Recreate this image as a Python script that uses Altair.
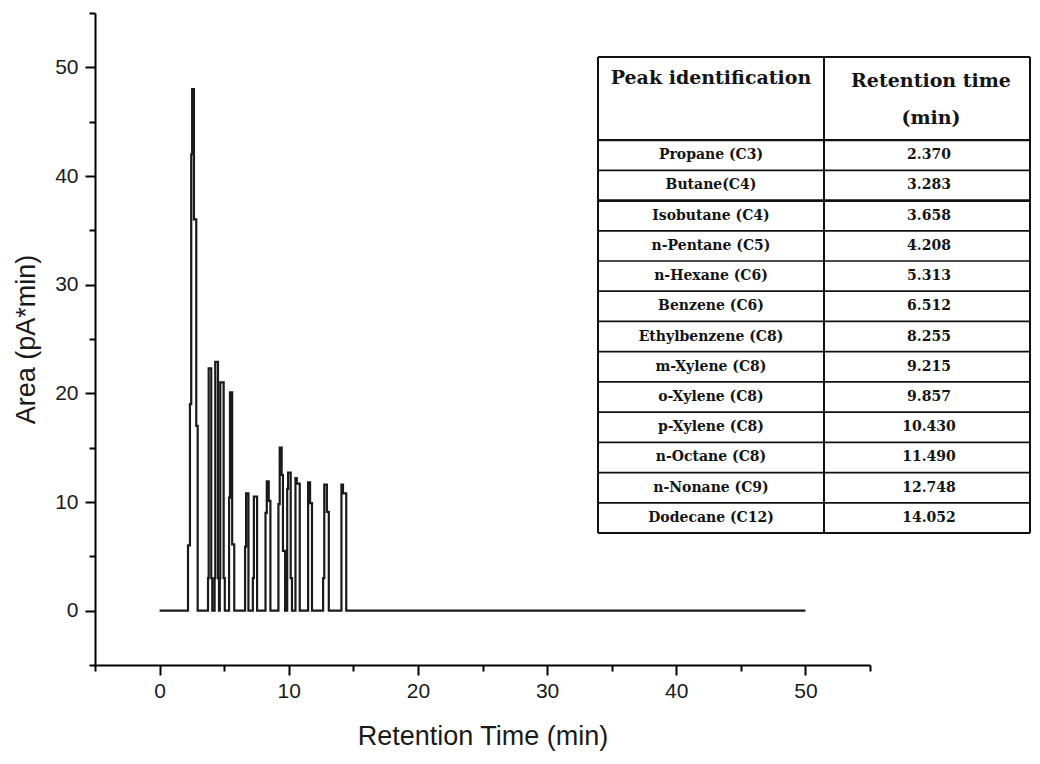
import altair as alt
import pandas as pd

# ---- chromatogram trace (retention time in min, signal in pA*min) ----
times = [0.0,
         2.20, 2.35, 2.45, 2.52, 2.66, 2.84, 2.95,
         3.75, 3.80, 4.00, 4.08,
         4.26, 4.31, 4.52, 4.60,
         4.66, 4.70, 4.96, 5.05,
         5.38, 5.45, 5.62, 5.78,
         6.62, 6.70, 6.88,
         7.22, 7.30, 7.55,
         8.20, 8.30, 8.45, 8.58,
         9.20, 9.30, 9.45, 9.55, 9.72,
         9.88, 9.95, 10.15, 10.25,
         10.52, 10.62, 10.85,
         11.50, 11.65, 11.80,
         12.66, 12.75, 12.95, 13.10,
         14.08, 14.20, 14.45,
         50.0]
signal = [0.0,
          6.0, 19.0, 42.0, 48.0, 36.0, 17.0, 0.0,
          3.0, 22.3, 3.0, 0.0,
          3.0, 22.9, 3.0, 0.0,
          3.0, 21.0, 3.0, 0.0,
          10.4, 20.1, 6.1, 0.0,
          5.9, 10.8, 0.0,
          3.0, 10.5, 0.0,
          9.0, 11.9, 10.1, 0.0,
          9.8, 15.0, 12.5, 5.5, 0.0,
          11.2, 12.7, 3.0, 0.0,
          12.2, 11.7, 0.0,
          11.8, 9.9, 0.0,
          3.0, 11.6, 9.1, 0.0,
          11.6, 10.8, 0.0,
          0.0]

# ---- peak identification table ----
compounds = ["Propane  (C3)", "Butane(C4)", "Isobutane (C4)", "n-Pentane (C5)",
             "n-Hexane (C6)", "Benzene (C6)", "Ethylbenzene  (C8)", "m-Xylene (C8)",
             "o-Xylene (C8)", "p-Xylene (C8)", "n-Octane (C8)", "n-Nonane (C9)",
             "Dodecane (C12)"]
ret_times = ["2.370", "3.283", "3.658", "4.208", "5.313", "6.512", "8.255",
             "9.215", "9.857", "10.430", "11.490", "12.748", "14.052"]
header_left = ["Peak identification"]
header_right = ["Retention time", "(min)"]

major_ticks = [0, 10, 20, 30, 40, 50]
minor_ticks = [-5, 5, 15, 25, 35, 45, 55]

trace = pd.DataFrame({"t": times, "s": signal})

xs = alt.Scale(domain=[-5, 55], nice=False, zero=False)
ys = alt.Scale(domain=[-5, 55], nice=False, zero=False)

line = alt.Chart(trace).mark_line(interpolate="step-after", color="#1a1a1a",
                                  strokeWidth=2.2).encode(
    x=alt.X("t:Q", scale=xs,
            axis=alt.Axis(values=major_ticks, tickSize=10, labelPadding=5, orient="bottom",
                          title="Retention Time (min)", titlePadding=22, offset=0)),
    y=alt.Y("s:Q", scale=ys,
            axis=alt.Axis(values=major_ticks, tickSize=10, labelPadding=7, orient="left",
                          title="Area (pA*min)", titlePadding=14, offset=0)),
)
minor = alt.Chart(trace).mark_line(opacity=0).encode(
    x=alt.X("t:Q", scale=xs,
            axis=alt.Axis(values=minor_ticks, tickSize=6, labels=False, domain=False,
                          title=None, orient="bottom", offset=0)),
    y=alt.Y("s:Q", scale=ys,
            axis=alt.Axis(values=minor_ticks, tickSize=6, labels=False, domain=False,
                          title=None, orient="left", offset=0)),
)
plot = alt.layer(line, minor).resolve_axis(x="independent", y="independent")

# table geometry (table units: x in px from table left, y in row units)
HEADER = 2.75
n = len(compounds)
TW = 432
DIV = 226
tx_scale = alt.Scale(domain=[0, TW], range=[503, 503 + TW])
ty_scale = alt.Scale(domain=[0, HEADER + n], range=[44, 520])

hlines = pd.DataFrame({
    "y": [0.0, HEADER] + [HEADER + i + 1 for i in range(n)],
    "w": [2.0, 2.4] + [2.8 if i == 1 else 1.7 for i in range(n - 1)] + [2.0],
})
hlines["x0"] = 0
hlines["x1"] = TW
vlines = pd.DataFrame({"x": [0, DIV, TW], "y0": [0, 0, 0], "y1": [HEADER + n] * 3})

rows = pd.DataFrame({
    "name": compounds,
    "rt": ret_times,
    "yc": [HEADER + i + 0.5 for i in range(n)],
})
rows["xl"] = DIV / 2
rows["xr"] = (DIV + TW) / 2 + 2

heads = pd.DataFrame({
    "txt": header_left + header_right,
    "x": [DIV / 2, (DIV + TW) / 2 + 4, (DIV + TW) / 2 + 4],
    "y": [0.68, 0.80, 2.02],
})

hrule = alt.Chart(hlines).mark_rule(color="#111").encode(
    x=alt.X("x0:Q", scale=tx_scale, axis=None), x2="x1:Q",
    y=alt.Y("y:Q", scale=ty_scale, axis=None),
    strokeWidth=alt.StrokeWidth("w:Q", scale=None, legend=None),
)
vrule = alt.Chart(vlines).mark_rule(color="#111", strokeWidth=2).encode(
    x=alt.X("x:Q", scale=tx_scale, axis=None),
    y=alt.Y("y0:Q", scale=ty_scale, axis=None), y2="y1:Q",
)
serif = "DejaVu Serif"
left_txt = alt.Chart(rows).mark_text(font=serif, fontWeight="bold", fontSize=14,
                                     color="#141414").encode(
    x=alt.X("xl:Q", scale=tx_scale, axis=None),
    y=alt.Y("yc:Q", scale=ty_scale, axis=None), text="name:N")
right_txt = alt.Chart(rows).mark_text(font=serif, fontWeight="bold", fontSize=14,
                                      color="#141414").encode(
    x=alt.X("xr:Q", scale=tx_scale, axis=None),
    y=alt.Y("yc:Q", scale=ty_scale, axis=None), text="rt:N")
head_txt = alt.Chart(heads).mark_text(font=serif, fontWeight="bold", fontSize=19,
                                      color="#141414").encode(
    x=alt.X("x:Q", scale=tx_scale, axis=None),
    y=alt.Y("y:Q", scale=ty_scale, axis=None), text="txt:N")

table = alt.layer(hrule, vrule, left_txt, right_txt, head_txt)

chart = alt.layer(plot, table).resolve_scale(
    x="independent", y="independent"
).properties(
    width=775, height=652,
    autosize=alt.AutoSizeParams(type="none"),
    padding={"left": 87, "top": 5, "right": 162, "bottom": 88},
).configure_view(stroke=None).configure_axis(
    grid=False, domainColor="black", domainWidth=2, tickColor="black", tickWidth=2,
    labelFont="Liberation Sans", labelFontSize=21, labelColor="#1a1a1a",
    titleFont="Liberation Sans", titleFontSize=27, titleFontWeight="normal",
    titleColor="#1a1a1a",
)

chart.save("out.html", embed_options={"renderer": "svg", "actions": False})
